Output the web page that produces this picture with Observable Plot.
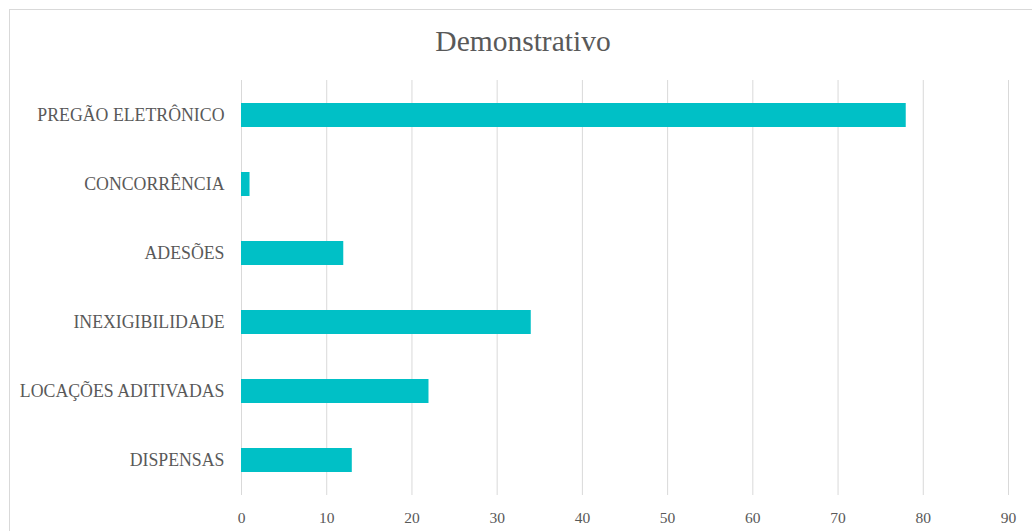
<!DOCTYPE html>
<html>
<head>
<meta charset="utf-8">
<script src="https://cdn.jsdelivr.net/npm/d3@7"></script>
<script src="https://cdn.jsdelivr.net/npm/@observablehq/plot@0.6"></script>
<style>
  html, body { margin: 0; padding: 0; background: #fff; overflow: hidden; }
  #frame { position: absolute; left: 9px; top: 9px; width: 1040px; height: 540px; border: 1px solid #d9d9d9; box-sizing: border-box; }
  #title { position: absolute; left: 0; width: 1046px; top: 23px; text-align: center; font-family: "Liberation Serif", "DejaVu Serif", serif; font-size: 29.5px; color: #595959; line-height: 36px; }
  #chart { position: absolute; left: 0; top: 0; }
</style>
</head>
<body>
<div id="frame"></div>
<div id="title">Demonstrativo</div>
<div id="chart"></div>
<script>
const categories = ["PREGÃO ELETRÔNICO", "CONCORRÊNCIA", "ADESÕES", "INEXIGIBILIDADE", "LOCAÇÕES ADITIVADAS", "DISPENSAS"];
const values = [78, 1, 12, 34, 22, 13];
const xTicks = [0, 10, 20, 30, 40, 50, 60, 70, 80, 90];

const data = categories.map((c, i) => ({category: c, value: values[i]}));

const chart = Plot.plot({
  width: 1032,
  height: 531,
  marginLeft: 241,
  marginRight: 24,
  marginTop: 80,
  marginBottom: 36,
  style: { fontFamily: "'Liberation Serif', 'DejaVu Serif', serif", color: "#595959", background: "transparent", overflow: "visible" },
  x: { domain: [0, 90], ticks: xTicks, label: null },
  y: { domain: categories, paddingInner: 0.65, paddingOuter: 0.325, label: null },
  marks: [
    Plot.gridX(xTicks, { stroke: "#d9d9d9", strokeOpacity: 1, strokeWidth: 1 }),
    Plot.barX(data, { x: "value", y: "category", fill: "#00c0c6" }),
    Plot.axisX({ ticks: xTicks, tickSize: 0, tickPadding: 16, fontSize: 15.5, fill: "#595959", label: null }),
    Plot.axisY({ tickSize: 0, tickPadding: 17, fontSize: 17.8, fill: "#595959", label: null })
  ]
});
document.getElementById("chart").appendChild(chart);
</script>
</body>
</html>
